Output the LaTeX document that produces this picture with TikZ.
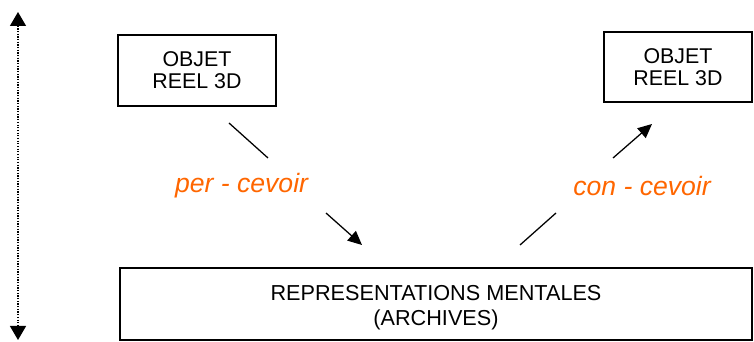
\documentclass[tikz,border=0pt]{standalone}
\usepackage{fontspec}
\setmainfont{Liberation Sans}
\usepackage{xcolor}
\usetikzlibrary{arrows.meta}
\usetikzlibrary{positioning}
\definecolor{orangelabel}{HTML}{FF6600}

\begin{document}
\begin{tikzpicture}[
  box/.style={draw,line width=0.9pt,inner sep=0pt,align=center,font=\fontsize{15.2}{15.9}\selectfont},
  ptr/.style={line width=0.9pt},
  verb/.style={font=\itshape\fontsize{18.9}{20}\selectfont,color=orangelabel}
]
\useasboundingbox (0,0) rectangle (18.85,8.55);
% Axis
\coordinate (top) at (0.45,8.25);
\coordinate (bot) at (0.45,0.05);
\draw[densely dotted,line width=0.9pt,{Triangle[length=0.35cm,width=0.4cm]}-{Triangle[length=0.35cm,width=0.4cm]}] (top) -- (bot);
% Objects
\node[box,minimum width=3.95cm,minimum height=1.775cm] (obj1) at (4.925,6.79) {OBJET\\REEL 3D};
\node[box,minimum width=3.7cm,minimum height=1.75cm] (obj2) at (16.95,6.875) {OBJET\\REEL 3D};
% Archives
\node[box,minimum width=15.8cm,minimum height=1.8cm] (rep) at (10.9,0.95) {};
\node[align=center,inner sep=0pt,font=\fontsize{15.4}{17.8}\selectfont] (archives) at ([yshift=-0.1cm]rep.center) {REPRESENTATIONS MENTALES\\(ARCHIVES)};
% Labels
\node[verb] (percevoir) at (6.04,3.9) {per - cevoir};
\node[verb] (concevoir) at (16.05,3.9) {con - cevoir};
% Arrows
\coordinate (p1) at (5.725,5.475); \coordinate (p2) at (6.7,4.6);
\coordinate (p3) at (8.15,3.225); \coordinate (p4) at (9.05,2.425);
\coordinate (c1) at (13.0,2.425); \coordinate (c2) at (13.9,3.225);
\coordinate (c3) at (15.325,4.6); \coordinate (c4) at (16.3,5.45);
\draw[ptr] (p1) -- (p2);
\draw[ptr,-{Triangle[length=0.35cm,width=0.32cm]}] (p3) -- (p4);
\draw[ptr] (c1) -- (c2);
\draw[ptr,-{Triangle[length=0.35cm,width=0.32cm]}] (c3) -- (c4);
\end{tikzpicture}
\end{document}
